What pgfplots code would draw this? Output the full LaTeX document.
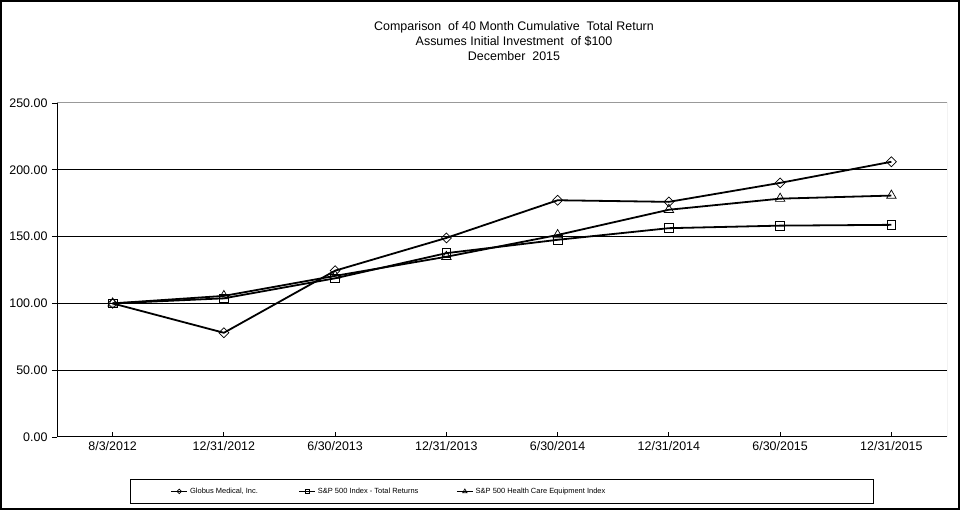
\documentclass[border=0pt]{standalone}
\usepackage{fontspec}
\setmainfont{Liberation Sans}
\usepackage{pgfplots}
\pgfplotsset{compat=1.18}
\begin{document}
\begin{tikzpicture}[x=1bp,y=1bp]
\useasboundingbox (0,0) rectangle (960,510);
\draw[line width=2bp] (1,1) rectangle (959,509);
\begin{axis}[
  at={(57bp,73bp)}, anchor=south west,
  scale only axis, width=890bp, height=334bp,
  xmin=-0.5, xmax=7.5, ymin=0, ymax=250,
  xtick={0,...,7},
  xticklabels={8/3/2012,12/31/2012,6/30/2013,12/31/2013,6/30/2014,12/31/2014,6/30/2015,12/31/2015},
  ytick={0,50,...,250},
  /pgf/number format/assume math mode=true,
  yticklabel style={/pgf/number format/fixed, /pgf/number format/fixed zerofill, /pgf/number format/precision=2},
  tick pos=left,
  xtick align=inside, ytick align=outside,
  major tick length=5bp,
  tick style={black, line width=0.8bp},
  ymajorgrids, major grid style={black, line width=1bp},
  axis line style={draw=none},
  tick label style={font=\fontsize{12.5}{15}\selectfont},
  xticklabel style={yshift=-1bp},
  yticklabel style={xshift=-1bp},
  title={Comparison\ \ of 40 Month Cumulative\ \ Total Return\\Assumes Initial Investment\ \ of \$100\\December\ \ 2015},
  title style={at={(0.5135,1)}, anchor=south, yshift=33bp, align=center, font=\fontsize{12.5}{15}\selectfont},
  legend columns=3,
  legend style={at={(0.082,-0.126)}, anchor=north west, draw=black, line width=0.8bp, inner xsep=40bp, inner ysep=6.5bp,
    font=\fontsize{7.5}{9}\selectfont, /tikz/every even column/.append style={column sep=2bp}},
  legend cell align=left,
  legend image code/.code={\draw[mark repeat=2,mark phase=2,#1,every mark/.append style={scale=0.45}] plot coordinates {(0bp,0bp)(8bp,0bp)(16bp,0bp)};},
]
\addplot[black, line width=1.8bp, mark=square, mark size=3.5bp, mark options={rotate=45, line width=0.7bp, solid}]
  coordinates {(0,100) (1,78) (2,124.5) (3,149) (4,177.2) (5,176) (6,190.2) (7,206)};
\addlegendentry{\makebox[104bp][l]{Globus Medical, Inc.}}
\addplot[black, line width=1.8bp, mark=square, mark size=4.3bp, mark options={line width=0.8bp, solid}]
  coordinates {(0,100) (1,103.8) (2,118.8) (3,137.6) (4,147.6) (5,156.3) (6,158.2) (7,158.8)};
\addlegendentry{\makebox[134bp][l]{S\&P 500 Index - Total Returns}}
\addplot[black, line width=1.8bp, mark=triangle, mark size=5.5bp, mark options={line width=0.7bp, solid}]
  coordinates {(0,100) (1,105.6) (2,120.6) (3,134.9) (4,151.2) (5,170.1) (6,178.4) (7,180.7)};
\addlegendentry{\makebox[356bp][l]{S\&P 500 Health Care Equipment Index}}
\draw[gray!80, line width=1bp] (rel axis cs:0,1) -- (rel axis cs:1,1) -- (rel axis cs:1,0);
\draw[black, line width=1bp] (rel axis cs:0,1) -- (rel axis cs:0,0) -- (rel axis cs:1,0);
\end{axis}
\end{tikzpicture}
\end{document}
